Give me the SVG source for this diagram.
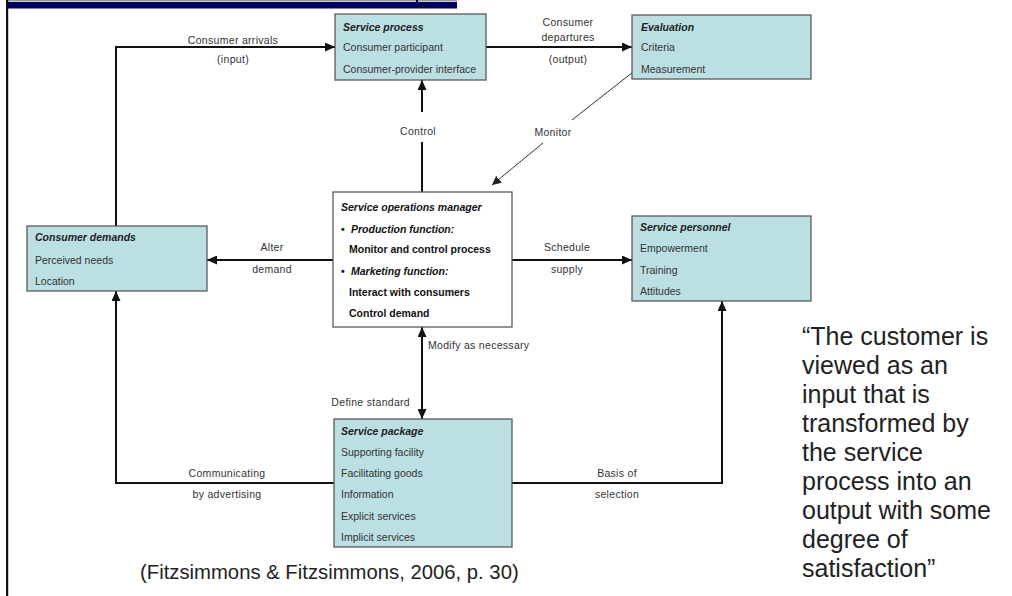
<svg xmlns="http://www.w3.org/2000/svg" width="1012" height="596" viewBox="0 0 1012 596">
  <style>
    .box { fill: #bcdfe3; stroke: #5a5a5a; stroke-width: 1.3; }
    .mgr { fill: #ffffff; stroke: #5a5a5a; stroke-width: 1.3; }
    .t { font-family: "Liberation Sans", Arial, sans-serif; font-size: 10.5px; fill: #333; }
    .h { font-weight: bold; font-style: italic; fill: #222; }
    .b { font-weight: bold; fill: #111; }
    .bi { font-weight: bold; font-style: italic; fill: #111; }
    .lbl { font-family: "Liberation Sans", Arial, sans-serif; font-size: 10.5px; letter-spacing: 0.3px; fill: #333; text-anchor: middle; }
    .wire { fill: none; stroke: #111; stroke-width: 2; }
    .thin { fill: none; stroke: #333; stroke-width: 1; }
    .quote { font-family: "Liberation Sans", Arial, sans-serif; font-size: 25px; fill: #222; }
  </style>
  <defs>
    <marker id="arr" viewBox="0 0 10 10" refX="10" refY="5" markerWidth="5" markerHeight="4.5" orient="auto-start-reverse" markerUnits="strokeWidth" preserveAspectRatio="none">
      <path d="M0,0 L10,5 L0,10 z" fill="#111"/>
    </marker>
    <marker id="arrThin" viewBox="0 0 10 10" refX="10" refY="5" markerWidth="9" markerHeight="9" orient="auto" markerUnits="strokeWidth">
      <path d="M0,0 L10,5 L0,10 z" fill="#222"/>
    </marker>
  </defs>

  <rect width="1012" height="596" fill="#ffffff"/>

  <!-- slide frame: header rule and left edge -->
  <g id="frame">
    <rect x="8" y="0" width="449" height="1.5" fill="#9a9a9a"/>
    <rect x="8" y="2" width="449" height="6.5" fill="#00005e"/>
    <rect x="416" y="0" width="2" height="3" fill="#00005e"/>
    <rect x="6" y="0" width="2.2" height="596" fill="#111"/>
  </g>

  <!-- connectors -->
  <g id="connectors">
    <!-- consumer arrivals -->
    <path class="wire" d="M116,226 V47 H335" marker-end="url(#arr)"/>
    <!-- consumer departures -->
    <path class="wire" d="M486,47 H632" marker-end="url(#arr)"/>
    <!-- control -->
    <path class="wire" d="M422,192 V142"/>
    <path class="wire" d="M422,112 V80" marker-end="url(#arr)"/>
    <!-- monitor -->
    <path class="thin" d="M633,72 L572,120"/>
    <path class="thin" d="M543,143 L492,185" marker-end="url(#arrThin)"/>
    <!-- alter demand -->
    <path class="wire" d="M333,260 H207" marker-end="url(#arr)"/>
    <!-- schedule supply -->
    <path class="wire" d="M512,260 H632" marker-end="url(#arr)"/>
    <!-- modify / define standard -->
    <path class="wire" d="M422,327 V419" marker-start="url(#arr)" marker-end="url(#arr)"/>
    <!-- communicating by advertising -->
    <path class="wire" d="M334,483 H116 V291" marker-end="url(#arr)"/>
    <!-- basis of selection -->
    <path class="wire" d="M512,483 H722 V301" marker-end="url(#arr)"/>

    <text class="lbl" x="233" y="44">Consumer arrivals</text>
    <text class="lbl" x="233" y="63">(input)</text>
    <text class="lbl" x="568" y="26">Consumer</text>
    <text class="lbl" x="568" y="41">departures</text>
    <text class="lbl" x="568" y="63">(output)</text>
    <text class="lbl" x="418" y="135">Control</text>
    <text class="lbl" x="553" y="136">Monitor</text>
    <text class="lbl" x="272" y="251">Alter</text>
    <text class="lbl" x="272" y="273">demand</text>
    <text class="lbl" x="567" y="251">Schedule</text>
    <text class="lbl" x="567" y="273">supply</text>
    <text class="lbl" x="428" y="349" style="text-anchor:start">Modify as necessary</text>
    <text class="lbl" x="410" y="406" style="text-anchor:end">Define standard</text>
    <text class="lbl" x="227" y="477">Communicating</text>
    <text class="lbl" x="227" y="498">by advertising</text>
    <text class="lbl" x="617" y="477">Basis of</text>
    <text class="lbl" x="617" y="498">selection</text>
  </g>

  <g id="service-process">
    <rect class="box" x="335" y="14" width="151" height="66"/>
    <text class="t h" x="343" y="31">Service process</text>
    <text class="t" x="343" y="51">Consumer participant</text>
    <text class="t" x="343" y="73">Consumer-provider interface</text>
  </g>

  <g id="evaluation">
    <rect class="box" x="632" y="15" width="179" height="64"/>
    <text class="t h" x="641" y="31">Evaluation</text>
    <text class="t" x="641" y="51">Criteria</text>
    <text class="t" x="641" y="73">Measurement</text>
  </g>

  <g id="consumer-demands">
    <rect class="box" x="27" y="226" width="180" height="65"/>
    <text class="t h" x="35" y="241">Consumer demands</text>
    <text class="t" x="35" y="264">Perceived needs</text>
    <text class="t" x="35" y="285">Location</text>
  </g>

  <g id="operations-manager">
    <rect class="mgr" x="333" y="192" width="179" height="135"/>
    <text class="t bi" x="341" y="211">Service operations manager</text>
    <text class="t b" x="341" y="233">•</text>
    <text class="t bi" x="351" y="233">Production function:</text>
    <text class="t b" x="349" y="253">Monitor and control process</text>
    <text class="t b" x="341" y="275">•</text>
    <text class="t bi" x="351" y="275">Marketing function:</text>
    <text class="t b" x="349" y="296">Interact with consumers</text>
    <text class="t b" x="349" y="317">Control demand</text>
  </g>

  <g id="service-personnel">
    <rect class="box" x="632" y="216" width="179" height="85"/>
    <text class="t h" x="640" y="231">Service personnel</text>
    <text class="t" x="640" y="252">Empowerment</text>
    <text class="t" x="640" y="274">Training</text>
    <text class="t" x="640" y="295">Attitudes</text>
  </g>

  <g id="service-package">
    <rect class="box" x="334" y="419" width="178" height="128"/>
    <text class="t h" x="341" y="435">Service package</text>
    <text class="t" x="341" y="456">Supporting facility</text>
    <text class="t" x="341" y="477">Facilitating goods</text>
    <text class="t" x="341" y="498">Information</text>
    <text class="t" x="341" y="520">Explicit services</text>
    <text class="t" x="341" y="541">Implicit services</text>
  </g>

  <g id="citation">
    <text x="140" y="579" style="font-family:'Liberation Sans',Arial,sans-serif;font-size:20.3px;fill:#222">(Fitzsimmons &amp; Fitzsimmons, 2006, p. 30)</text>
  </g>

  <g id="quote">
    <text class="quote" x="802" y="345">“The customer is</text>
    <text class="quote" x="802" y="374">viewed as an</text>
    <text class="quote" x="802" y="403">input that is</text>
    <text class="quote" x="802" y="432">transformed by</text>
    <text class="quote" x="802" y="461">the service</text>
    <text class="quote" x="802" y="490">process into an</text>
    <text class="quote" x="802" y="519">output with some</text>
    <text class="quote" x="802" y="548">degree of</text>
    <text class="quote" x="802" y="577">satisfaction”</text>
  </g>
</svg>
